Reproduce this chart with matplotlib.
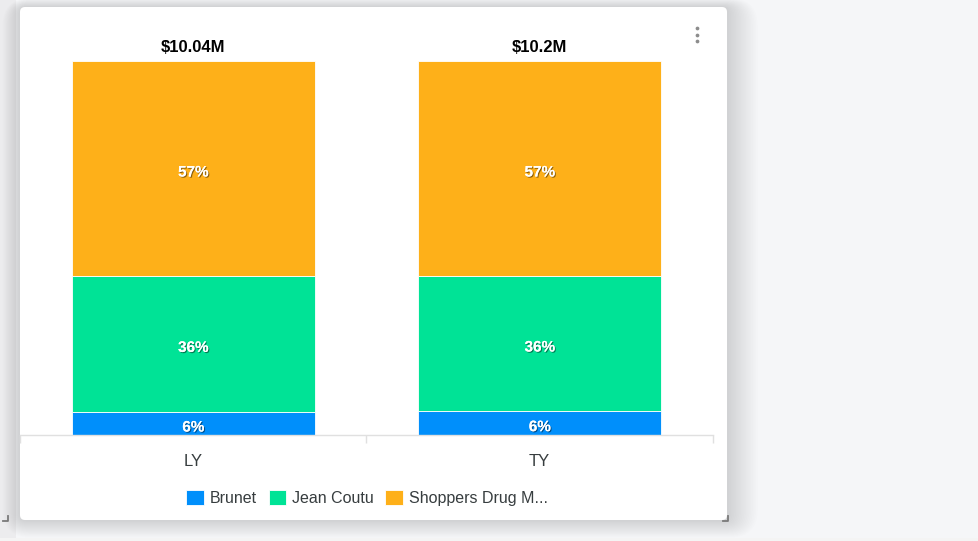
import matplotlib.pyplot as plt
import matplotlib.patheffects as pe
from matplotlib.patches import FancyBboxPatch, Rectangle

plt.rcParams['font.family'] = ['Liberation Sans', 'DejaVu Sans']

# data (shares in percent of each total)
categories = ['LY', 'TY']
totals = ['$10.04M', '$10.2M']
series_names = ['Brunet', 'Jean Coutu', 'Shoppers Drug M...']
brunet = [6.2, 6.4]
jean_coutu = [36.4, 36.2]
shoppers = [57.4, 57.4]
colors = ['#008FFB', '#00E396', '#FEB019']

W, H = 979, 541
fig = plt.figure(figsize=(W / 100, H / 100), dpi=100)
fig.patch.set_facecolor('#f5f6f8')

# background layer in pixel coordinates (card, shadow, frame)
bg = fig.add_axes([0, 0, 1, 1], zorder=0)
bg.set_xlim(0, W)
bg.set_ylim(H, 0)
bg.axis('off')
bg.add_patch(Rectangle((0, 0), 16, H, color='#ececee', lw=0))
bg.add_patch(Rectangle((0, 538), W, 3, color='#f4f4f4', lw=0))

# soft drop shadow: stacked translucent rounded rects
for i in range(18):
    p = 22 - i * 1.2
    bg.add_patch(FancyBboxPatch((20 - p * 0.8, 7 - p * 0.4), 707 + p * 2.2, 513 + p * 1.2,
                                boxstyle=f'round,pad=0,rounding_size={6 + p}',
                                fc='black', ec='none', alpha=0.009))
bg.add_patch(FancyBboxPatch((20, 7), 707, 513, boxstyle='round,pad=0,rounding_size=5',
                            fc='white', ec='none'))
# resize handles
for x0 in (3, 723):
    bg.plot([x0, x0 + 5, x0 + 5], [521, 521, 516], color='#7a7a7a', lw=1.3)
# menu dots
bg.plot([697, 697, 697], [28, 34.5, 41], 'o', ms=2.7, color='#8c8c8c', mec='none')

# chart axes
ax = fig.add_axes([20 / W, (H - 435) / H, 693 / W, 374 / H], zorder=1)
ax.patch.set_alpha(0)
x = list(range(len(categories)))
bottom = [0.0] * len(categories)
for name, vals, col in zip(series_names, [brunet, jean_coutu, shoppers], colors):
    ax.bar(x, vals, width=0.7, bottom=bottom, color=col, edgecolor='white',
           linewidth=0.6, label=name)
    for xi, b, v in zip(x, bottom, vals):
        ax.annotate(f'{v:.0f}%', (xi, b + v / 2), xytext=(0, -3), textcoords='offset points',
                    ha='center', va='center', color='white', fontsize=11, fontweight='bold',
                    path_effects=[pe.withSimplePatchShadow(offset=(0.8, -0.8),
                                                           shadow_rgbFace='#000000',
                                                           alpha=0.45), pe.Normal()])
    bottom = [b + v for b, v in zip(bottom, vals)]

for xi, top, t in zip(x, bottom, totals):
    ax.annotate(t, (xi, top), xytext=(0, 4), textcoords='offset points', ha='center',
                va='bottom', fontsize=12, fontweight='bold', color='#000000')

ax.set_xlim(-0.5, len(categories) - 0.5)
ax.set_ylim(0, 100)
for s in ['top', 'right', 'left']:
    ax.spines[s].set_visible(False)
ax.spines['bottom'].set_color('#e0e0e0')
ax.spines['bottom'].set_linewidth(1)
ax.set_yticks([])
ax.set_xticks(x)
ax.set_xticklabels(categories, fontsize=12, color='#373d3f')
ax.tick_params(axis='x', which='major', length=0, pad=14)
ax.set_xticks([-0.5, 0.5, 1.5], minor=True)
ax.tick_params(axis='x', which='minor', length=6, color='#e0e0e0', width=1)

fig.legend(loc='center', bbox_to_anchor=(367 / W, (H - 498) / H), ncol=3, frameon=False,
           fontsize=11.5, handlelength=1.1, handleheight=1.1, handletextpad=0.35,
           columnspacing=0.75, labelcolor='#373d3f')

fig.savefig('out.png', dpi=100, facecolor=fig.get_facecolor())
